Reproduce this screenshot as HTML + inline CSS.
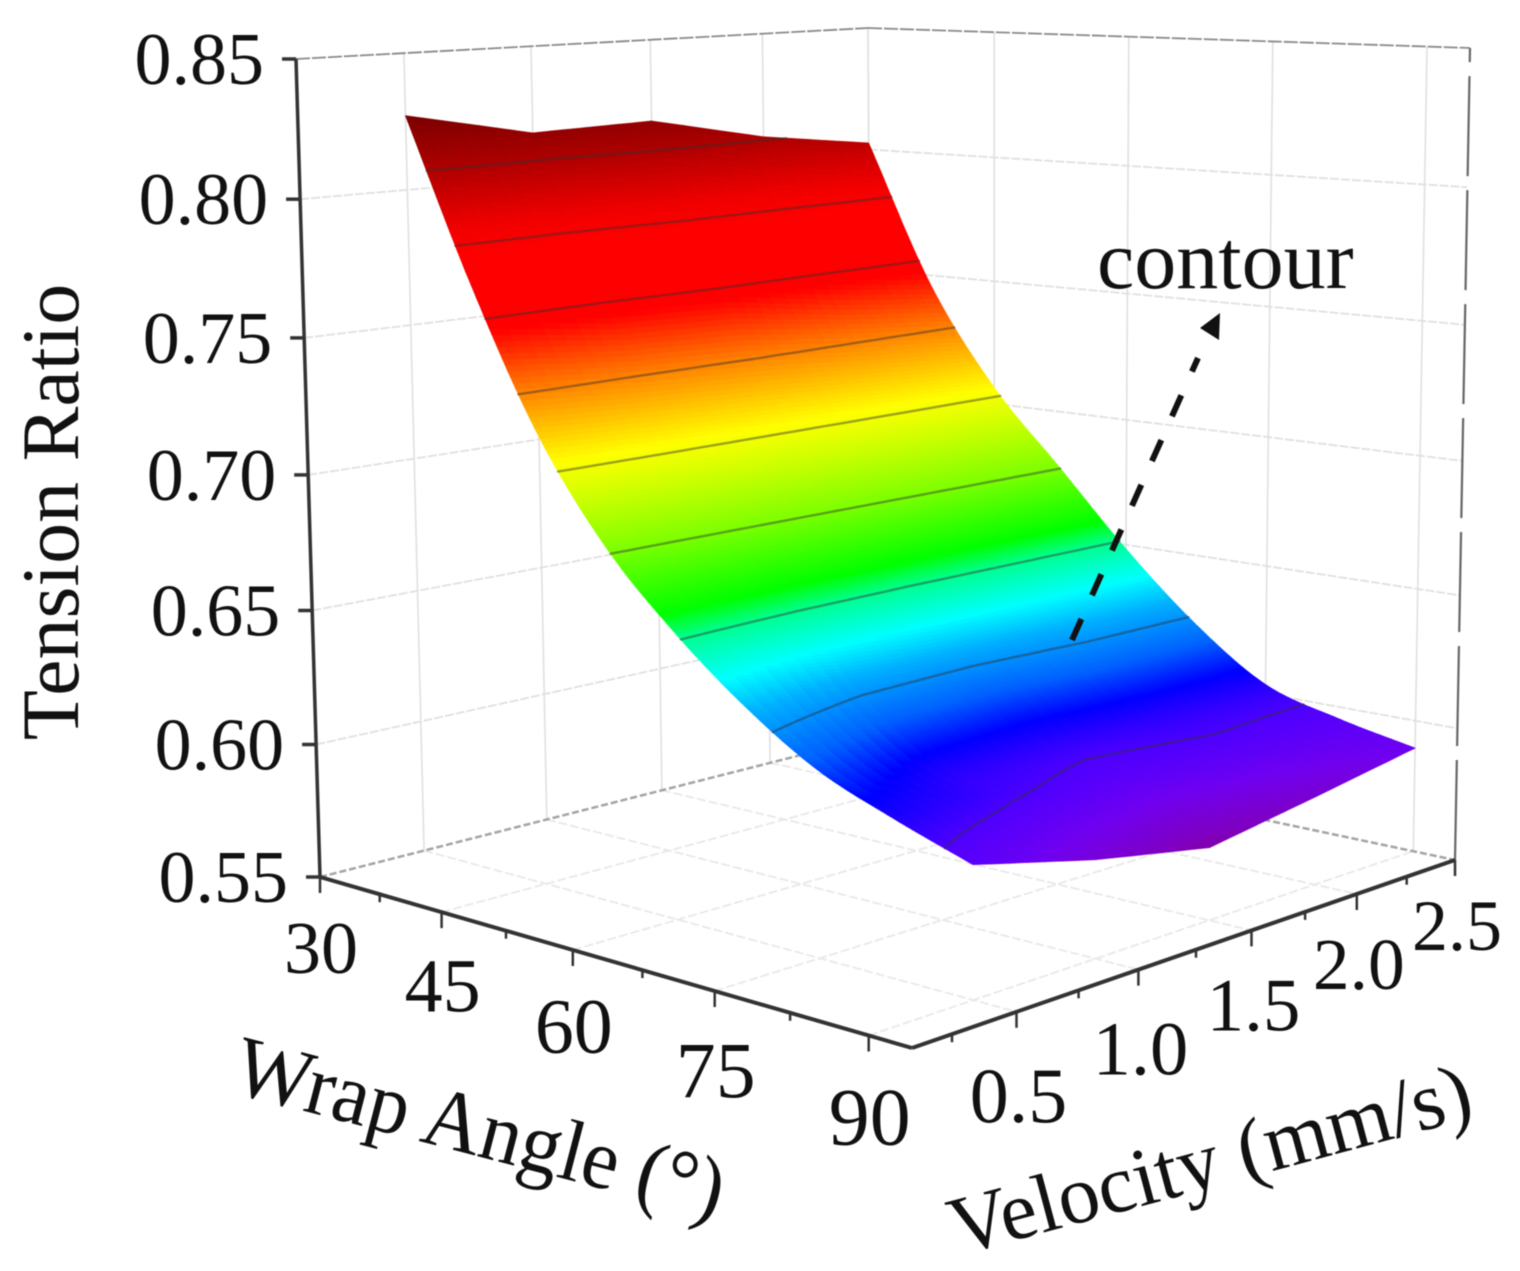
<!DOCTYPE html>
<html lang="en">
<head>
<meta charset="utf-8">
<title>Tension Ratio surface</title>
<style>
html,body{margin:0;padding:0;background:#fff;width:1520px;height:1271px;overflow:hidden}
svg{display:block;filter:blur(0.6px)}
text{font-family:"Liberation Serif",serif;fill:#111}
</style>
</head>
<body>
<svg id="chart" xmlns="http://www.w3.org/2000/svg" width="1520" height="1271" viewBox="0 0 1520 1271">
  <g id="walls"></g>
  <g id="surface"></g>
  <g id="contours"></g>
  <g id="axes"></g>
  <g id="labels" font-size="74"></g>
  <text transform="translate(78,512) rotate(-90)" text-anchor="middle" font-size="82">Tension Ratio</text>
  <text transform="translate(473,1155) rotate(14.6) scale(1,1.05)" text-anchor="middle" font-size="82">Wrap Angle (°)</text>
  <text transform="translate(1217,1186) rotate(-15)" text-anchor="middle" font-size="83">Velocity (mm/s)</text>
  <text x="1097" y="288" font-size="84">contour</text>
  <line x1="1072" y1="640" x2="1198" y2="358" stroke="#111" stroke-width="6" stroke-dasharray="23 26"/>
  <polygon points="1220,313 1200,328 1219,340" fill="#111"/>
</svg>
<script>
// ---- chart data ----
const wrapAngles = [30, 37.5, 45, 52.5, 60, 67.5, 75, 82.5, 90];
const velocities = [0.5, 1.0, 1.5, 2.0, 2.5];
const tensionAt30 = [0.8272, 0.8174, 0.8185, 0.8088, 0.8027];
const tensionAt37 = [0.7673, 0.7600, 0.7587, 0.7513, 0.7460];
const tensionAt45 = [0.7161, 0.7137, 0.7114, 0.7090, 0.7066];
const tensionAt52 = [0.6795, 0.6790, 0.6785, 0.6780, 0.6775];
const tensionAt60 = [0.6533, 0.6501, 0.6488, 0.6486, 0.6483];
const tensionAt67 = [0.6320, 0.6228, 0.6205, 0.6233, 0.6230];
const tensionAt75 = [0.6152, 0.6043, 0.6020, 0.6036, 0.6036];
const tensionAt82 = [0.6045, 0.5980, 0.5935, 0.5960, 0.5954];
const tensionAt90 = [0.5953, 0.5844, 0.5762, 0.5827, 0.5896];
const tensionRows = [tensionAt30, tensionAt37, tensionAt45, tensionAt52, tensionAt60, tensionAt67, tensionAt75, tensionAt82, tensionAt90];
const contourLevels = [0.5985, 0.625, 0.651, 0.677, 0.7035, 0.7295, 0.7555, 0.781, 0.8075];
const zTicks = [0.55, 0.60, 0.65, 0.70, 0.75, 0.80, 0.85];
const angleTicks = [30, 45, 60, 75, 90];
const angleMinorTicks = [37.5, 52.5, 67.5, 82.5];
const velocityTicks = [0.5, 1.0, 1.5, 2.0, 2.5];
const velocityMinorTicks = [0.25, 0.75, 1.25, 1.75, 2.25];

// ---- axis functions ----
const A_MIN = 30, A_MAX = 94, V_MIN = 0.1, V_MAX = 2.5, Z_MIN = 0.55, Z_MAX = 0.85;
const floorBox = [[320,877],[912,1048],[1455,860],[872,737]];
const topBox = [[296,59],[908,87],[1470,48],[868,28]];
const boxDepth = [29, 24.5, 29.2, 33.7];
const PERSP = -0.0333;
function project(a, v, z) {
  const s = (a - A_MIN) / (A_MAX - A_MIN);
  const t = (v - V_MIN) / (V_MAX - V_MIN);
  const f0 = (z - Z_MIN) / (Z_MAX - Z_MIN);
  const f = f0 * (1 + PERSP) / (1 + f0 * PERSP);
  const k = [(1-s)*(1-t)*boxDepth[0], s*(1-t)*boxDepth[1], s*t*boxDepth[2], (1-s)*t*boxDepth[3]];
  let x = 0, y = 0, w = 0;
  for (let i = 0; i < 4; i++) {
    x += k[i] * (floorBox[i][0] * (1-f) + topBox[i][0] * f);
    y += k[i] * (floorBox[i][1] * (1-f) + topBox[i][1] * f);
    w += k[i];
  }
  return [x / w, y / w];
}
function locate(list, value) {
  let i = 0;
  while (i < list.length - 2 && value > list[i + 1]) i++;
  return [i, (value - list[i]) / (list[i + 1] - list[i])];
}
// smooth along the wrap-angle direction, straight between velocity nodes
function alongAngle(i, p, j) {
  const n = tensionRows.length - 1;
  const y1 = tensionRows[i][j], y2 = tensionRows[i+1][j];
  const y0 = i > 0 ? tensionRows[i-1][j] : 2*y1 - y2;
  const y3 = i + 2 <= n ? tensionRows[i+2][j] : 2*y2 - y1;
  return 0.5 * (2*y1 + (y2-y0)*p + (2*y0-5*y1+4*y2-y3)*p*p + (3*y1-y0-3*y2+y3)*p*p*p);
}
function tension(a, v) {
  const [i, p] = locate(wrapAngles, a);
  const [j, q] = locate(velocities, v);
  return (1-q) * alongAngle(i, p, j) + q * alongAngle(i, p, j+1);
}
const colorStops = [
  [0.831,[112,0,0]],[0.807,[176,0,0]],[0.787,[240,0,0]],[0.777,[255,0,0]],[0.751,[255,0,0]],
  [0.738,[255,80,0]],[0.728,[255,140,0]],[0.715,[255,208,0]],[0.706,[255,255,0]],[0.693,[200,255,0]],
  [0.678,[128,255,0]],[0.658,[0,255,0]],[0.651,[0,255,144]],[0.639,[0,255,255]],[0.630,[0,176,255]],
  [0.617,[0,96,255]],[0.608,[0,0,255]],[0.598,[80,0,255]],[0.589,[112,0,240]],[0.579,[128,0,192]],[0.573,[128,0,144]]
];
function colorFor(z) {
  if (z >= colorStops[0][0]) return 'rgb(' + colorStops[0][1].join(',') + ')';
  for (let i = 1; i < colorStops.length; i++) {
    if (z >= colorStops[i][0]) {
      const a = colorStops[i-1], b = colorStops[i];
      const m = (z - b[0]) / (a[0] - b[0]);
      const c = [0,1,2].map(n => Math.round(b[1][n] + (a[1][n] - b[1][n]) * m));
      return 'rgb(' + c.join(',') + ')';
    }
  }
  return 'rgb(' + colorStops[colorStops.length-1][1].join(',') + ')';
}

// ---- drawing ----
const NS = 'http://www.w3.org/2000/svg';
function shape(parent, tag, attrs) {
  const el = document.createElementNS(NS, tag);
  for (const key in attrs) el.setAttribute(key, attrs[key]);
  parent.appendChild(el);
  return el;
}
function segment(parent, p, q, stroke, width, dash) {
  const attrs = {x1:p[0].toFixed(1), y1:p[1].toFixed(1), x2:q[0].toFixed(1), y2:q[1].toFixed(1), stroke:stroke, 'stroke-width':width};
  if (dash) attrs['stroke-dasharray'] = dash;
  return shape(parent, 'line', attrs);
}
const walls = document.getElementById('walls');
const GRID = '#e0e0e0';
let el;
zTicks.slice(1, -1).forEach(z => {
  el = segment(walls, project(A_MIN, V_MIN, z), project(A_MIN, V_MAX, z), GRID, 1.8, '9 2');
  
  
  el = segment(walls, project(A_MIN, V_MAX, z), project(A_MAX, V_MAX, z), GRID, 1.8, '9 2');
  
  
});
velocityTicks.forEach(v => {
  el = segment(walls, project(A_MIN, v, Z_MIN), project(A_MIN, v, Z_MAX), GRID, 1.6);
  
  
  if (v < V_MAX) {
    el = segment(walls, project(A_MIN, v, Z_MIN), project(A_MAX, v, Z_MIN), '#e8e8e8', 1.8, '9 3');
    
    
  }
});
angleTicks.forEach(a => {
  el = segment(walls, project(a, V_MAX, Z_MIN), project(a, V_MAX, Z_MAX), GRID, 1.6);
  
  
  if (a > A_MIN) {
    el = segment(walls, project(a, V_MIN, Z_MIN), project(a, V_MAX, Z_MIN), '#e8e8e8', 1.8, '9 3');
    
    
  }
});
el = segment(walls, project(A_MIN, V_MIN, Z_MIN), project(A_MIN, V_MAX, Z_MIN), '#a4a4a4', 2.5, '7 3');


el = segment(walls, project(A_MIN, V_MAX, Z_MIN), project(A_MAX, V_MAX, Z_MIN), '#a4a4a4', 2.5, '7 3');


el = segment(walls, project(A_MIN, V_MIN, Z_MAX), project(A_MIN, V_MAX, Z_MAX), '#8a8a8a', 1.8, '14 2');


el = segment(walls, project(A_MIN, V_MAX, Z_MAX), project(A_MAX, V_MAX, Z_MAX), '#8a8a8a', 1.8, '14 2');


el = segment(walls, project(A_MAX, V_MAX, Z_MIN), project(A_MAX, V_MAX, Z_MAX), '#666', 2.2, '100 14');



// surface cells
const surface = document.getElementById('surface');
const NA = 200, NV = 28;
const aFirst = wrapAngles[0], aLast = wrapAngles[wrapAngles.length-1];
const vFirst = velocities[0], vLast = velocities[velocities.length-1];
const gridZ = [], gridP = [];
for (let i = 0; i <= NA; i++) {
  gridZ.push([]); gridP.push([]);
  const a = aFirst + (aLast - aFirst) * i / NA;
  for (let j = 0; j <= NV; j++) {
    const v = vFirst + (vLast - vFirst) * j / NV;
    const z = tension(a, v);
    gridZ[i].push(z);
    gridP[i].push(project(a, v, z));
  }
}
for (let i = 0; i < NA; i++) {
  for (let j = 0; j < NV; j++) {
    const pts = [gridP[i][j], gridP[i+1][j], gridP[i+1][j+1], gridP[i][j+1]];
    const zMean = (gridZ[i][j] + gridZ[i+1][j] + gridZ[i+1][j+1] + gridZ[i][j+1]) / 4;
    const col = colorFor(zMean);
    const cell = shape(surface, 'polygon', {points: pts.map(p => p[0].toFixed(1) + ',' + p[1].toFixed(1)).join(' '), fill: col, stroke: col, 'stroke-width': 0.7});
    
    
  }
}

// contour lines via marching squares on the refined grid
const contours = document.getElementById('contours');
contourLevels.forEach(level => {
  let d = '';
  function cross(i1, j1, i2, j2) {
    const z1 = gridZ[i1][j1], z2 = gridZ[i2][j2];
    if ((z1 < level) === (z2 < level)) return null;
    const m = (level - z1) / (z2 - z1);
    const p = gridP[i1][j1], q = gridP[i2][j2];
    return [p[0] + (q[0] - p[0]) * m, p[1] + (q[1] - p[1]) * m];
  }
  for (let i = 0; i < NA; i++) {
    for (let j = 0; j < NV; j++) {
      const hits = [cross(i,j,i+1,j), cross(i+1,j,i+1,j+1), cross(i,j+1,i+1,j+1), cross(i,j,i,j+1)].filter(Boolean);
      if (hits.length >= 2) {
        d += 'M' + hits[0][0].toFixed(1) + ' ' + hits[0][1].toFixed(1) + 'L' + hits[1][0].toFixed(1) + ' ' + hits[1][1].toFixed(1);
      }
    }
  }
  const line = shape(contours, 'path', {d: d, fill: 'none', stroke: '#303030', 'stroke-opacity': 0.45, 'stroke-width': 2.4, 'stroke-linecap': 'round'});
  
  
});

// axes and ticks
const axes = document.getElementById('axes');
const AXIS = '#333';
el = segment(axes, project(A_MIN, V_MIN, Z_MAX), project(A_MIN, V_MIN, Z_MIN), AXIS, 3.5);


el = segment(axes, project(A_MIN, V_MIN, Z_MIN), project(A_MAX, V_MIN, Z_MIN), AXIS, 4);


el = segment(axes, project(A_MAX, V_MIN, Z_MIN), project(A_MAX, V_MAX, Z_MIN), AXIS, 4);


const labels = document.getElementById('labels');
function label(parent, x, y, str) {
  const t = shape(parent, 'text', {x: x.toFixed(1), y: y.toFixed(1), 'text-anchor': 'middle'});
  t.textContent = str;
  return t;
}
zTicks.forEach(z => {
  const p = project(A_MIN, V_MIN, z);
  const tick = segment(axes, [p[0] - 14, p[1]], p, AXIS, 3.5);
  
  
  const t = label(labels, p[0] - 32, p[1] + 25, z.toFixed(2));
  t.setAttribute('text-anchor', 'end');
  
  
});
angleTicks.forEach(a => {
  const p = project(a, V_MIN, Z_MIN);
  const tick = segment(axes, p, [p[0], p[1] + 16], AXIS, 2.5);
  
  
  const t = label(labels, p[0] + 1, p[1] + 96 + (a - 30) * 0.22, String(a));
  t.setAttribute('font-size', (74 + (a - 30) * 0.13).toFixed(1));
  
  
});
angleMinorTicks.forEach(a => {
  const p = project(a, V_MIN, Z_MIN);
  const tick = segment(axes, p, [p[0], p[1] + 8], AXIS, 2.5);
  
  
});
velocityTicks.forEach(v => {
  const p = project(A_MAX, v, Z_MIN);
  const tick = segment(axes, p, [p[0], p[1] + 16], AXIS, 2.5);
  
  
  const t = label(labels, p[0] + 2, p[1] + 93 + 17 - (v - 0.5) * 10, v.toFixed(1));
  t.setAttribute('font-size', (78 - (v - 0.5) * 3).toFixed(1));
  
  
});
velocityMinorTicks.forEach(v => {
  const p = project(A_MAX, v, Z_MIN);
  const tick = segment(axes, p, [p[0], p[1] + 8], AXIS, 2.5);
  
  
});
</script>
</body>
</html>
